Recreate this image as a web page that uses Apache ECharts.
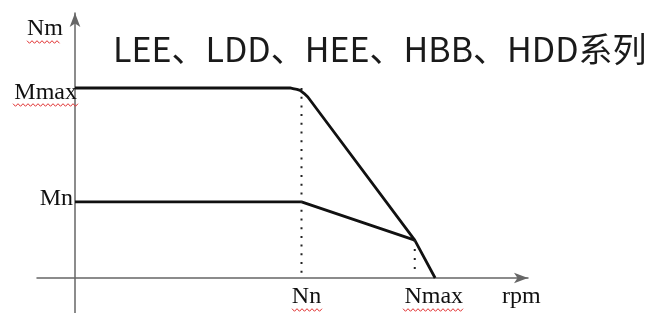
<!DOCTYPE html>
<html><head><meta charset="utf-8">
<script src="https://cdn.jsdelivr.net/npm/echarts@6/dist/echarts.min.js"></script>
<style>html,body{margin:0;padding:0;background:#fff}#c{width:661px;height:313px}</style>
</head><body><div id="c"></div>
<script>
// Data (arbitrary units: x 0..100, y 0..100)
const titleText = 'LEE、LDD、HEE、HBB、HDD系列';
const upperX = [0, 47.5, 48.1, 49.0, 49.7, 50.6, 51.4, 75, 79.5];
const upperY = [71.7, 71.7, 71.5, 71.2, 70.8, 69.6, 68.3, 14.3, 0];
const lowerX = [0, 50, 75];
const lowerY = [28.7, 28.7, 14.3];
const nnGuideX = [50, 50];
const nnGuideY = [71.7, 1];
const nmaxGuideX = [75, 75];
const nmaxGuideY = [14.3, 1];
const xTickValues = [50, 75];
const xTickLabels = ['Nn', 'Nmax'];
const yTickValues = [71.7, 28.7];
const yTickLabels = ['Mmax', 'Mn'];

const zip = (xs, ys) => xs.map((x, i) => [x, ys[i]]);
const serif = 'Liberation Serif';
const chart = echarts.init(document.getElementById('c'), null, {renderer: 'canvas'});

// layout: plot region (value 0..100) and the overhang of the axis lines
const plot = {left: 75, right: 133, top: 13, bottom: 35};
const overhangLeft = 38, overhangBottom = 35;
const xMinExt = -overhangLeft / (661 - plot.left - plot.right) * 100;
const yMinExt = -overhangBottom / (313 - plot.top - plot.bottom) * 100;

function wavy(x0, x1, y) {
  const pts = []; let up = true;
  for (let x = x0; x <= x1; x += 2.5) { pts.push([x, y + (up ? -1.3 : 1.3)]); up = !up; }
  return pts;
}
const waves = [[27, 61, 42], [13, 78, 105], [292, 322, 310], [403, 463, 310]].map(w => ({
  type: 'polyline', shape: {points: wavy(w[0], w[1], w[2])},
  style: {stroke: '#e03030', lineWidth: 1, fill: null}, z: 10
}));

const lineAxisCommon = {
  axisTick: {show: false}, splitLine: {show: false}, axisLabel: {show: false}
};
const labelBase = {fontFamily: serif, fontSize: 24, color: '#111'};

chart.setOption({
  animation: false,
  title: {text: titleText, left: 108, top: 27,
    textStyle: {fontFamily: 'Noto Sans CJK SC', fontSize: 34, fontWeight: 'normal', color: '#1a1a1a'}},
  grid: [
    {left: plot.left - overhangLeft, right: plot.right, top: plot.top, bottom: plot.bottom - overhangBottom,
      containLabel: false, outerBoundsMode: 'none'},
    {left: plot.left, right: plot.right, top: plot.top, bottom: plot.bottom,
      containLabel: false, outerBoundsMode: 'none'}
  ],
  xAxis: [
    Object.assign({type: 'value', gridIndex: 0, min: xMinExt, max: 100,
      axisLine: {onZero: true, symbol: ['none', 'arrow'], symbolSize: [8, 14],
        lineStyle: {color: '#666', width: 1.5}}}, lineAxisCommon),
    {type: 'value', gridIndex: 1, min: 0, max: 100,
      axisLine: {show: false}, axisTick: {show: false}, splitLine: {show: false},
      axisLabel: Object.assign({customValues: xTickValues, margin: 7,
        formatter: v => {
          const i = xTickValues.indexOf(v);
          return i < 0 ? '' : '{' + (i === 0 ? 'a' : 'b') + '|' + xTickLabels[i] + '}';
        },
        rich: {
          a: Object.assign({padding: [0, 0, 0, 10]}, labelBase),
          b: Object.assign({padding: [0, 0, 0, 38]}, labelBase)
        }}, labelBase)}
  ],
  yAxis: [
    Object.assign({type: 'value', gridIndex: 0, min: yMinExt, max: 100,
      axisLine: {onZero: true, symbol: ['none', 'arrow'], symbolSize: [8, 14],
        lineStyle: {color: '#666', width: 1.5}}}, lineAxisCommon),
    {type: 'value', gridIndex: 1, min: 0, max: 100,
      axisLine: {show: false}, axisTick: {show: false}, splitLine: {show: false},
      axisLabel: Object.assign({customValues: yTickValues, margin: -2,
        formatter: v => {
          const i = yTickValues.indexOf(v);
          return i < 0 ? '' : '{' + (i === 0 ? 'hi' : 'lo') + '|' + yTickLabels[i] + '}';
        },
        rich: {
          hi: Object.assign({padding: [10, 0, 0, 0]}, labelBase),
          lo: Object.assign({padding: [0, 4, 6, 0]}, labelBase)
        }}, labelBase)}
  ],
  graphic: [
    {type: 'text', left: 27, top: 17, style: {text: 'Nm', font: '24px "Liberation Serif"', fill: '#111'}},
    {type: 'text', left: 502, top: 285, style: {text: 'rpm', font: '24px "Liberation Serif"', fill: '#111'}}
  ].concat(waves),
  series: [
    {type: 'line', xAxisIndex: 1, yAxisIndex: 1, data: zip(upperX, upperY), symbol: 'none',
      lineStyle: {color: '#111', width: 2.8, join: 'round'}},
    {type: 'line', xAxisIndex: 1, yAxisIndex: 1, data: zip(lowerX, lowerY), symbol: 'none',
      lineStyle: {color: '#111', width: 2.8}},
    {type: 'line', xAxisIndex: 1, yAxisIndex: 1, data: zip(nnGuideX, nnGuideY), symbol: 'none',
      lineStyle: {color: '#222', width: 2, type: [2, 6.7], cap: 'butt'}},
    {type: 'line', xAxisIndex: 1, yAxisIndex: 1, data: zip(nmaxGuideX, nmaxGuideY), symbol: 'none',
      lineStyle: {color: '#222', width: 2, type: [2, 7], cap: 'butt'}}
  ]
});
</script></body></html>
